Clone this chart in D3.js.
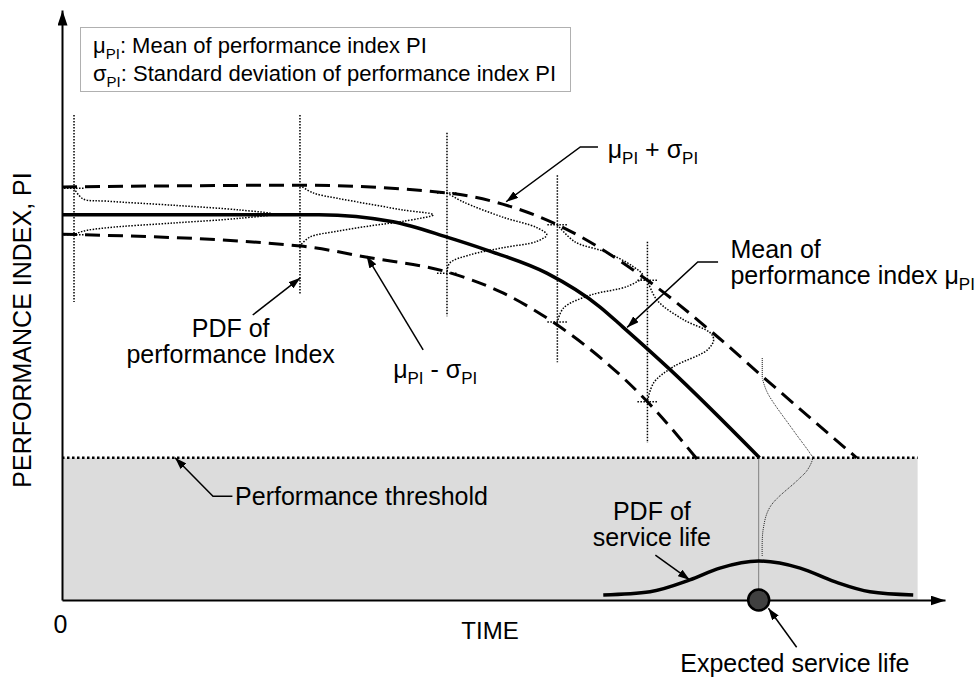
<!DOCTYPE html>
<html>
<head>
 <meta charset="utf-8"/>
 <script src="https://d3js.org/d3.v7.min.js"></script>
 <style>
  body{margin:0;background:#fff;}
  text{font-family:"Liberation Sans",Arial,sans-serif;fill:#000;}
 </style>
</head>
<body>
 <div id="graph"></div>
 <script type="text/javascript">
   // time runs 0-100 along x, performance index 0-100 up y (schematic units)
   var threshold = 24.1;
   var zoneEnd = 96.9;
   // mean of PI and the +/- one sigma band
   var meanPI  = [[0,65.3],[29.1,65.3],[37.5,64.1],[43.6,61.5],[48.1,59.3],[54.9,55.4],[60.9,49.7],[63.5,46.3],[68.9,39.0],[79,24.1]];
   var upperPI = [[0,70.0],[27,70.3],[43.6,69.0],[49.9,67.1],[56.1,63.6],[66.3,54.2],[73.7,45.3],[79.4,37.8],[90.0,24.1]];
   var lowerPI = [[0,62.0],[27,60.0],[34.9,58.0],[43.6,55.6],[50,52.0],[56.1,46.6],[66.3,33.6],[72.3,23.2]];
   // PDF of PI drawn at a few times: stem, little cross ticks, and [PI, density] points
   var pdfTimes = [1.36, 26.95, 43.6, 56.1, 66.3, 79.3];
   var pdfStems = [[82.2,50.5],[82.2,51.9],[79.2,48.1],[72.0,40.3],[60.7,26.6],[41.0,37.6]];
   var pdfTicks = [[69.8,61.9],[],[69.0,55.4],[63.6,47.1],[54.2,33.6],[]];
   var pdfCurves = [
     [[69.8,0],[68.0,1.0],[67.6,3.8],[66.9,11.3],[66.1,18.8],[65.4,22.5],[64.7,18.8],[63.9,11.3],[63.1,3.8],[62.5,1.0],[61.9,0]],
     [[70.3,0],[69.0,1.5],[68.1,4.2],[67.1,7.9],[66.1,11.7],[65.3,15.1],[64.2,11.7],[63.4,7.9],[62.5,4.2],[61.5,1.1],[60.0,0]],
     [[69.0,0],[67.5,1.8],[64.9,6.3],[63.1,10.2],[61.9,11.3],[60.8,10.2],[59.7,6.3],[58.5,2.6],[57.1,0.3],[55.4,0]],
     [[63.6,0],[60.7,2.0],[59.0,5.4],[56.6,8.5],[54.9,9.7],[53.2,8.0],[51.7,3.8],[49.5,0.7],[47.1,0]],
     [[54.2,0],[50.8,1.1],[47.5,4.1],[45.3,7.1],[44.1,7.5],[42.4,6.8],[39.5,2.9],[36.8,0.7],[33.6,0]],
     [[37.6,0],[35.1,0.6],[28.8,3.5],[24.9,5.4],[24.1,5.7],[22.0,5.1],[20.3,4.0],[15.8,0.9],[11.9,0.1],[7.3,0]]
   ];
   // service life
   var lifeTime = 78.9;
   var lifePDF = [[61.3,0.85],[66.6,1.4],[71.1,3.4],[74.5,5.4],[78.9,6.6],[83.6,5.4],[87.5,3.1],[91.5,1.4],[96.4,0.85]];
   // texts ("_" = subscript)
   var legendLines = [["μ","_PI",": Mean of performance index PI"],["σ","_PI",": Standard deviation of performance index PI"]];
   var xTitle = "TIME", yTitle = "PERFORMANCE INDEX, PI";

   var svg = d3.select("#graph").append("svg").attr("width", 980).attr("height", 681);
   var x = d3.scaleLinear().domain([0, 100]).range([62, 945]);
   var y = d3.scaleLinear().domain([0, 100]).range([600, 10]);

   var defs = svg.append("defs");
   function head(id, w, h) {
     defs.append("marker").attr("id", id).attr("markerUnits", "userSpaceOnUse")
       .attr("viewBox", "0 0 " + w + " " + h).attr("markerWidth", w).attr("markerHeight", h)
       .attr("refX", w).attr("refY", h / 2).attr("orient", "auto")
       .append("path").attr("d", "M0,0L" + w + "," + h / 2 + "L0," + h + "Z").attr("fill", "#000");
   }
   head("head", 12, 8);
   head("axhead", 15, 10);

   // failure zone below the threshold
   svg.append("rect")
      .attr("x", x(0)).attr("y", y(threshold))
      .attr("width", x(zoneEnd) - x(0)).attr("height", y(0) - y(threshold))
      .attr("fill", "#dcdcdc");
   svg.append("line")
      .attr("x1", x(0)).attr("x2", x(zoneEnd)).attr("y1", y(threshold)).attr("y2", y(threshold))
      .attr("stroke", "#000").attr("stroke-width", 2.5).attr("stroke-dasharray", "2.5,2.5");
   // drop line at expected service life
   svg.append("line")
      .attr("x1", x(lifeTime)).attr("x2", x(lifeTime)).attr("y1", y(threshold)).attr("y2", y(0))
      .attr("stroke", "#808080").attr("stroke-width", 1);

   // PDFs of performance index
   pdfCurves.forEach(function(c, i) {
     var t = pdfTimes[i], last = i === pdfCurves.length - 1;
     var sw = last ? 1 : 1.5, dash = last ? "1,1" : "1.5,1.5";
     svg.append("line")
        .attr("x1", x(t)).attr("x2", x(t)).attr("y1", y(pdfStems[i][0])).attr("y2", y(pdfStems[i][1]))
        .attr("stroke", "#000").attr("stroke-width", sw).attr("stroke-dasharray", dash);
     pdfTicks[i].forEach(function(v) {
       svg.append("line")
          .attr("x1", x(t) - 10).attr("x2", x(t) + 10).attr("y1", y(v)).attr("y2", y(v))
          .attr("stroke", "#000").attr("stroke-width", 1.5).attr("stroke-dasharray", "1.5,1.5");
     });
     var pl = d3.line()
        .x(function(d) { return x(t + d[1]); })
        .y(function(d) { return y(d[0]); })
        .curve(d3.curveCatmullRom.alpha(0.5));
     svg.append("path").datum(c).attr("d", pl)
        .attr("fill", "none").attr("stroke", last ? "#222" : "#000")
        .attr("stroke-width", sw).attr("stroke-dasharray", dash);
   });

   var d3line = d3.line()
      .x(function(d) { return x(d[0]); })
      .y(function(d) { return y(d[1]); })
      .curve(d3.curveMonotoneX);
   [upperPI, lowerPI].forEach(function(s) {
     svg.append("path").datum(s).attr("d", d3line)
        .attr("fill", "none").attr("stroke", "#000").attr("stroke-width", 3).attr("stroke-dasharray", "15,8");
   });
   svg.append("path").datum(meanPI).attr("d", d3line)
      .attr("fill", "none").attr("stroke", "#000").attr("stroke-width", 3.5);
   svg.append("path").datum(lifePDF).attr("d", d3line)
      .attr("fill", "none").attr("stroke", "#000").attr("stroke-width", 3.5);

   // axes
   var xAxis = svg.append("g").attr("transform", "translate(0," + y(0) + ")")
      .call(d3.axisBottom(x).tickValues([0]).tickSize(0).tickSizeOuter(0).tickPadding(15));
   var yAxis = svg.append("g").attr("transform", "translate(" + x(0) + ",0)")
      .call(d3.axisLeft(y).tickValues([]).tickSizeOuter(0));
   [xAxis, yAxis].forEach(function(a) {
     a.select(".domain").attr("stroke-width", 2).attr("marker-end", "url(#axhead)");
   });
   xAxis.selectAll("text").attr("font-size", 25).attr("font-family", "Liberation Sans, Arial, sans-serif").attr("dx", "-2");

   svg.append("circle").attr("cx", x(lifeTime)).attr("cy", y(0)).attr("r", 10.5)
      .attr("fill", "#404040").attr("stroke", "#000").attr("stroke-width", 2.5);

   svg.append("text").attr("x", 490).attr("y", 639).attr("text-anchor", "middle")
      .attr("font-size", 24).text(xTitle);
   svg.append("text").attr("transform", "translate(31,330) rotate(-90)").attr("text-anchor", "middle")
      .attr("font-size", 25).text(yTitle);

   // text with subscripts
   function rich(sel, parts, size) {
     var shift = Math.round(size * 0.25);
     parts.forEach(function(p, i) {
       var sub = p[0] === "_";
       var ts = sel.append("tspan").text(sub ? p.slice(1) : p);
       if (sub) ts.attr("font-size", Math.round(size * 0.68)).attr("dy", shift);
       else if (i > 0 && parts[i - 1][0] === "_") ts.attr("dy", -shift);
     });
   }
   function label(t, v, lines, size, anchor) {
     var tx = svg.append("g");
     lines.forEach(function(l, i) {
       var el = tx.append("text").attr("x", x(t)).attr("y", y(v) + i * 26.5)
          .attr("font-size", size).attr("text-anchor", anchor || "start");
       rich(el, l, size);
     });
   }
   function leader(pts) {
     svg.append("path")
        .attr("d", d3.line()(pts.map(function(p) { return [x(p[0]), y(p[1])]; })))
        .attr("fill", "none").attr("stroke", "#000").attr("stroke-width", 1.5)
        .attr("marker-end", "url(#head)");
   }

   // legend
   svg.append("rect").attr("x", 80.5).attr("y", 27.5).attr("width", 490).attr("height", 64)
      .attr("fill", "#fff").attr("stroke", "#b0b0b0").attr("stroke-width", 1);
   legendLines.forEach(function(l, i) {
     var el = svg.append("text").attr("x", 93).attr("y", 53 + i * 28).attr("font-size", 22);
     rich(el, l, 22);
   });

   // annotations
   leader([[60.7,76.8],[58.7,76.8],[50.3,67.5]]);
   label(61.8, 74.9, [["μ","_PI"," + σ","_PI"]], 25);
   leader([[74.3,57.3],[72.0,57.3],[64.0,46.2]]);
   label(75.7, 58.0, [["Mean of"],["performance index μ","_PI"]], 25);
   leader([[21.6,48.3],[27,54.6]]);
   label(19.1, 44.6, [["PDF of"],["performance Index"]], 25, "middle");
   leader([[40.9,42.4],[34.5,58.3]]);
   label(37.5, 37.6, [["μ","_PI"," - σ","_PI"]], 25);
   leader([[19.3,17.6],[17.1,17.6],[12.8,24.1]]);
   label(19.6, 16.1, [["Performance threshold"]], 25);
   leader([[67.2,7.6],[71.1,3.4]]);
   label(66.8, 13.6, [["PDF of"],["service life"]], 25, "middle");
   leader([[83.2,-8.0],[80.0,-1.4]]);
   label(83.0, -12.2, [["Expected service life"]], 25, "middle");
 </script>
</body>
</html>
